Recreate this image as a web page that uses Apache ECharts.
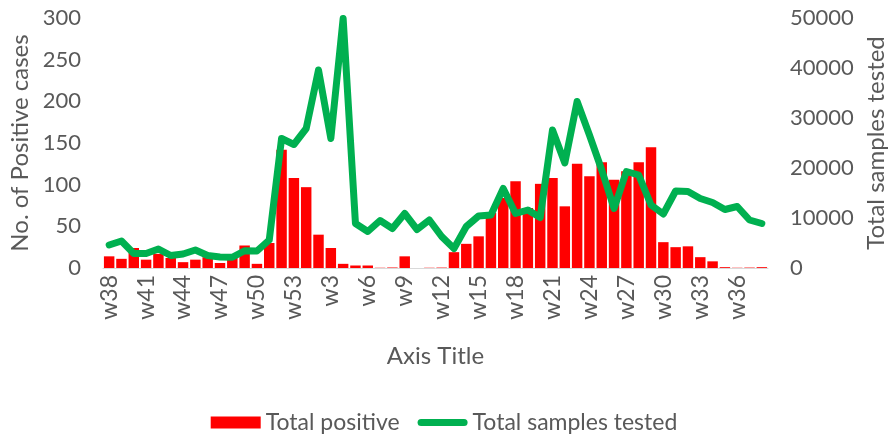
<!DOCTYPE html>
<html><head><meta charset="utf-8">
<script src="https://cdn.jsdelivr.net/npm/echarts@6/dist/echarts.min.js"></script>
<style>html,body{margin:0;padding:0;background:#fff}#c{width:888px;height:435px}</style>
</head><body><div id="c"></div>
<script>
var categories = ['w38','w39','w40','w41','w42','w43','w44','w45','w46','w47','w48','w49','w50','w51','w52','w53',
  'w1','w2','w3','w4','w5','w6','w7','w8','w9','w10','w11','w12','w13','w14','w15','w16','w17','w18','w19','w20',
  'w21','w22','w23','w24','w25','w26','w27','w28','w29','w30','w31','w32','w33','w34','w35','w36','w37','w38'];
var totalPositive = [14,11,24,10,17,12,7,10,13,6,12,27,5,30,142,108,
  97,40,24,5,3,3,0.3,0.6,14,0,0.3,0.5,19,29,38,66,84,104,72,101,
  108,74,125,110,127,106,116,127,145,31,25,26,13,8,1,0.3,0.5,1];
var totalTested = [4600,5400,2900,2900,3800,2500,2800,3600,2500,2200,2150,3450,3400,5600,25900,24700,
  27900,39600,25900,49900,8900,7300,9500,7900,10900,7700,9600,6300,3900,8300,10400,10600,15900,10900,11600,10100,
  27600,21000,33300,26600,19600,11900,19300,18600,12600,10800,15400,15300,13900,13100,11700,12300,9600,8900];
var leftTicks = [0,300,50];
var rightTicks = [0,50000,10000];

var FONT = 'Lato';
var GREY = '#595959';
var chart = echarts.init(document.getElementById('c'), null, {renderer:'canvas'});
chart.setOption({
  animation:false,
  textStyle:{fontFamily:FONT},
  grid:{left:103,right:120,top:18,bottom:167,containLabel:false,outerBoundsMode:'none'},
  legend:{
    top:406,left:'center',itemGap:18,
    textStyle:{fontFamily:FONT,fontSize:23,color:GREY},
    data:[
      {name:'Total positive',icon:'rect',itemStyle:{color:'#FF0000'}},
      {name:'Total samples tested',icon:'path://M0,0 M0,12 M3.5,2.5 H46.5 A3.5,3.5 0 0 1 46.5,9.5 H3.5 A3.5,3.5 0 0 1 3.5,2.5 Z',itemStyle:{color:'#00B050'}}
    ],
    itemWidth:50,itemHeight:12
  },
  xAxis:{
    type:'category',data:categories,
    axisLine:{lineStyle:{color:'#D9D9D9',width:1}},
    axisTick:{show:false},
    axisLabel:{interval:2,rotate:90,color:GREY,fontSize:23,fontFamily:FONT,margin:7},
    name:'Axis Title',nameLocation:'middle',nameGap:76,
    nameTextStyle:{color:GREY,fontSize:24,fontFamily:FONT}
  },
  yAxis:[
    {type:'value',min:leftTicks[0],max:leftTicks[1],interval:leftTicks[2],
     splitLine:{show:false},axisLine:{show:false},axisTick:{show:false},
     axisLabel:{color:GREY,fontSize:22,fontFamily:FONT,margin:22},
     name:'No. of Positive cases',nameLocation:'middle',nameGap:71,
     nameTextStyle:{color:GREY,fontSize:24,fontFamily:FONT}},
    {type:'value',min:rightTicks[0],max:rightTicks[1],interval:rightTicks[2],
     splitLine:{show:false},axisLine:{show:false},axisTick:{show:false},
     axisLabel:{color:GREY,fontSize:22,fontFamily:FONT,margin:22,formatter:function(v){return String(v);}},
     name:'Total samples tested',nameLocation:'middle',nameGap:96,nameRotate:90,
     nameTextStyle:{color:GREY,fontSize:24,fontFamily:FONT}}
  ],
  series:[
    {name:'Total positive',type:'bar',data:totalPositive,yAxisIndex:0,
     barCategoryGap:'15%',itemStyle:{color:'#FF0000'}},
    {name:'Total samples tested',type:'line',data:totalTested,yAxisIndex:1,
     symbol:'none',lineStyle:{color:'#00B050',width:7,cap:'round',join:'round'},
     itemStyle:{color:'#00B050'}}
  ]
});
</script></body></html>
